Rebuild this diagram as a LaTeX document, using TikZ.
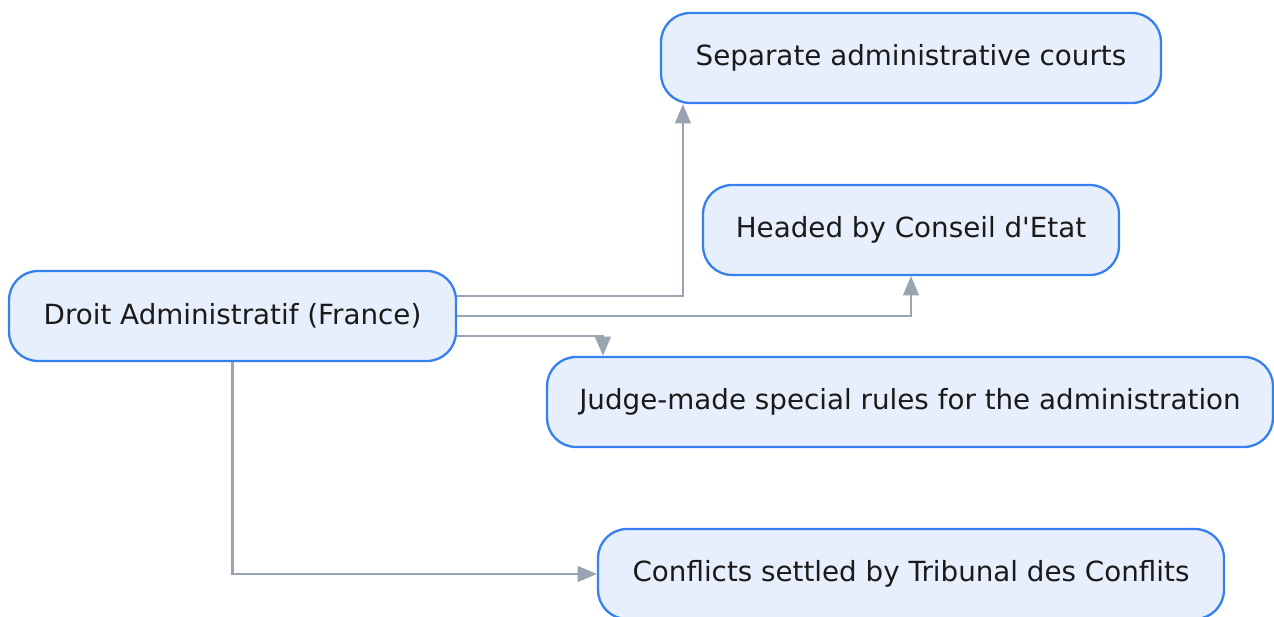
\documentclass[tikz,border=0pt]{standalone}
\usepackage{fontspec}
\setmainfont{DejaVu Sans}
\usetikzlibrary{arrows.meta}
\definecolor{boxfill}{HTML}{E8EFFC}
\definecolor{boxline}{HTML}{3580EC}
\definecolor{edgegray}{HTML}{9AA3B2}
\definecolor{txt}{HTML}{1A1A1A}
\begin{document}
\begin{tikzpicture}[x=0.02cm, y=-0.02cm,
    every node/.style={inner sep=0pt, font=\fontsize{15.8}{19}\selectfont, text=txt},
    topic/.style={draw=boxline, fill=boxfill, line width=1.3pt, rounded corners=0.58cm, minimum height=1.8cm},
    edge/.style={draw=edgegray, line width=1.2pt, -{Triangle[length=11pt, width=9pt]}}]
    \useasboundingbox (0,0) rectangle (1274,617);
    % the source
    \node [topic, minimum width=8.94cm] (droit) at (232.5,316) {Droit Administratif (France)};
    % the features
    \node [topic, minimum width=10cm] (courts) at (911,58) {Separate administrative courts};
    \node [topic, minimum width=8.32cm] (conseil) at (911,230) {Headed by Conseil d\textquotesingle Etat};
    \node [topic, minimum width=14.52cm] (rules) at (910,402) {Judge-made special rules for the administration};
    \node [topic, minimum width=12.52cm] (conflits) at (911,574) {Conflicts settled by Tribunal des Conflits};
    % connectors
    \draw [edge] ([yshift=0.4cm]droit.east) -| ([xshift=0.46cm]courts.south west);
    \draw [edge] (droit.east) -| (conseil.south);
    \draw [edge] ([yshift=-0.4cm]droit.east) -| ([xshift=1.14cm]rules.north west);
    \draw [edge] (droit.south) |- (conflits.west);
\end{tikzpicture}
\end{document}
